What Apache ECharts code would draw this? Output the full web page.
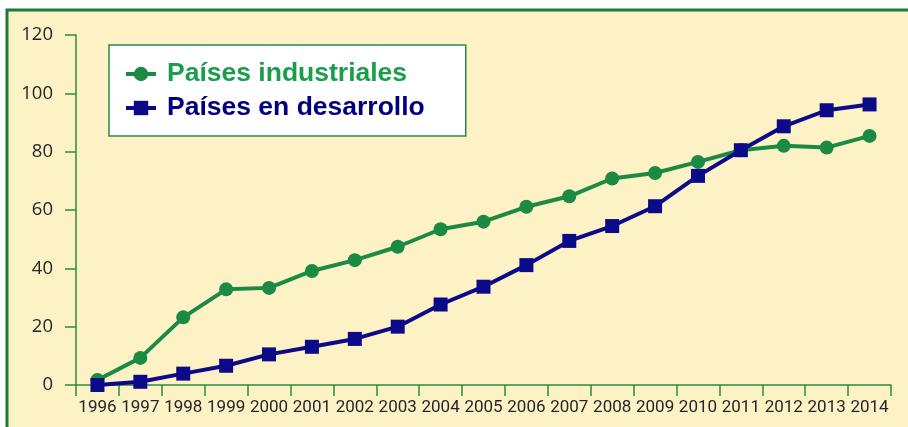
<!DOCTYPE html>
<html>
<head>
<meta charset="utf-8">
<script src="https://cdn.jsdelivr.net/npm/echarts@6/dist/echarts.min.js"></script>
<style>
html,body{margin:0;padding:0;background:#ffffff;}
#chart{width:908px;height:427px;}
</style>
</head>
<body>
<div id="chart"></div>
<script>
const years = ['1996','1997','1998','1999','2000','2001','2002','2003','2004','2005','2006','2007','2008','2009','2010','2011','2012','2013','2014'];
const industriales = [1.7, 9.3, 23.2, 32.8, 33.3, 39.1, 42.8, 47.4, 53.4, 56.0, 61.1, 64.7, 70.8, 72.7, 76.5, 80.5, 82.0, 81.4, 85.4];
const desarrollo = [0, 1.1, 3.9, 6.6, 10.5, 13.1, 15.8, 20.0, 27.6, 33.7, 41.1, 49.4, 54.5, 61.3, 71.7, 80.5, 88.7, 94.2, 96.2];
const yTicks = [0, 20, 40, 60, 80, 100, 120];

const GREEN = '#1b8a42';
const BLUE = '#0b0b8a';
const AXIS = '#2a8a45';
const chart = echarts.init(document.getElementById('chart'), null, {renderer: 'canvas'});
chart.setOption({
  animation: false,
  backgroundColor: '#ffffff',
  graphic: [{
    type: 'rect', z: -10, silent: true,
    shape: {x: 7, y: 10, width: 920, height: 440},
    style: {fill: '#fdf2c6', stroke: '#1e7a3a', lineWidth: 3}
  }],
  grid: {left: 76, right: 17, top: 35, bottom: 42},
  legend: {
    orient: 'vertical',
    left: 109, top: 45,
    backgroundColor: '#ffffff',
    borderColor: '#2a8a45', borderWidth: 1.5,
    padding: [14, 41, 13, 15],
    itemWidth: 30, itemHeight: 18, itemGap: 4,
    lineStyle: {width: 4},
    textStyle: {fontFamily: 'Liberation Sans, Arial, sans-serif', fontWeight: 'bold', fontSize: 26.5, lineHeight: 30, padding: [0, 0, 0, 6]},
    data: [
      {name: 'Países industriales', textStyle: {color: '#1a9e4c'}},
      {name: 'Países en desarrollo', textStyle: {color: '#00007f'}}
    ]
  },
  xAxis: {
    type: 'category', data: years, boundaryGap: true,
    axisLine: {lineStyle: {color: AXIS, width: 1.5}},
    axisTick: {show: true, length: 11, lineStyle: {color: AXIS, width: 1.5}},
    axisLabel: {interval: 0, color: '#262626', fontFamily: 'Roboto, sans-serif', fontSize: 17, margin: 14}
  },
  yAxis: {
    type: 'value', min: 0, max: 120, interval: 20,
    axisLine: {show: true, lineStyle: {color: AXIS, width: 1.5}},
    axisTick: {show: true, length: 11, lineStyle: {color: AXIS, width: 1.5}},
    splitLine: {show: false},
    axisLabel: {color: '#262626', fontFamily: 'Open Sans, sans-serif', fontSize: 18.5, margin: 23,
      formatter: v => yTicks.includes(v) ? String(v) : ''}
  },
  series: [
    {
      name: 'Países industriales', type: 'line', data: industriales,
      symbol: 'circle', symbolSize: 14,
      lineStyle: {color: GREEN, width: 4},
      itemStyle: {color: GREEN}
    },
    {
      name: 'Países en desarrollo', type: 'line', data: desarrollo,
      symbol: 'rect', symbolSize: 14,
      lineStyle: {color: BLUE, width: 4},
      itemStyle: {color: BLUE}
    }
  ]
});
</script>
</body>
</html>
